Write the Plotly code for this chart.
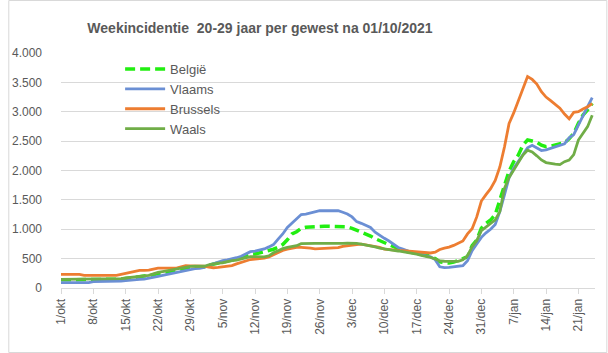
import plotly.graph_objects as go
import pandas as pd

start_date = "2020-10-01"

belgie = [140]*13 + [150, 160, 170, 180, 190, 195, 205, 225, 245, 258, 275, 290, 305, 320, 340, 345, 352, 355, 360,
          390, 410, 425, 440, 455, 475, 490, 515, 550, 578, 580, 600, 607, 625, 660, 692, 740, 820, 919, 958,
          1016, 1033, 1040, 1050, 1050, 1050, 1050, 1050, 1050, 1045, 1040, 1016, 985, 958, 920, 885, 840, 805,
          777, 735, 700, 663, 635, 620, 605, 595, 575, 555, 539, 500, 445, 430, 425, 440, 465, 500, 533, 720,
          817, 1016, 1100, 1157, 1250, 1500, 1753, 1990, 2150, 2263, 2434, 2519, 2502, 2479, 2430, 2405, 2415,
          2430, 2445, 2475, 2540, 2632, 2802, 2944, 3030, 3143]

vlaams = [90]*7 + [107]*6 + [119, 125, 136, 142, 148, 153, 165, 182, 199, 215, 233, 250, 267, 285, 306, 318, 330,
          335, 350, 385, 414, 440, 465, 480, 495, 515, 540, 580, 618, 629, 650, 665, 700, 740, 833, 920, 1030,
          1100, 1173, 1250, 1258, 1280, 1305, 1315, 1315, 1315, 1315, 1315, 1290, 1260, 1210, 1130, 1101, 1070,
          1030, 950, 890, 846, 800, 740, 690, 663, 630, 605, 585, 560, 545, 530, 482, 360, 346, 350, 363, 366,
          380, 465, 635, 748, 862, 940, 1000, 1080, 1300, 1583, 1880, 2037, 2150, 2263, 2385, 2430, 2380, 2340,
          2350, 2375, 2400, 2425, 2455, 2555, 2610, 2774, 2944, 3086, 3240]

brussels = [233]*5 + [216]*8 + [233, 250, 272, 285, 300, 300, 305, 323, 340, 340, 340, 340, 340, 360, 380, 378,
            376, 375, 374, 355, 345, 350, 360, 365, 380, 410, 437, 470, 485, 493, 500, 510, 530, 570, 607, 640,
            660, 680, 692, 692, 690, 680, 665, 670, 675, 680, 683, 686, 709, 722, 733, 740, 748, 735, 722, 710,
            690, 663, 652, 648, 640, 635, 628, 620, 616, 607, 602, 596, 610, 655, 680, 695, 725, 760, 800, 920,
            1010, 1210, 1480, 1590, 1690, 1830, 2060, 2400, 2800, 2980, 3190, 3398, 3600, 3550, 3470, 3340, 3250,
            3190, 3130, 3060, 2960, 2880, 2990, 3001, 3047, 3086, 3140]

waals = [148]*13 + [160, 170, 182, 192, 200, 205, 215, 243, 267, 280, 295, 310, 323, 340, 363, 368, 372, 374, 370,
         395, 414, 425, 430, 450, 465, 475, 490, 510, 533, 533, 528, 530, 548, 600, 635, 670, 690, 705, 720, 755,
         760, 760, 760, 760, 760, 755, 750, 748, 760, 765, 765, 760, 748, 735, 720, 700, 680, 663, 650, 640, 630,
         618, 605, 590, 575, 555, 540, 522, 493, 460, 455, 454, 454, 454, 480, 550, 703, 805, 975, 1040, 1095,
         1160, 1300, 1697, 1880, 2008, 2122, 2263, 2345, 2315, 2250, 2180, 2135, 2118, 2110, 2100, 2150, 2178,
         2270, 2519, 2632, 2746, 2940]

month_names = {10: "okt", 11: "nov", 12: "dec", 1: "jan"}
dates = pd.date_range(start_date, periods=len(belgie), freq="D")
days = list(range(len(dates)))
tick_days = days[::7]
tick_text = [f"{dates[d].day}/{month_names[dates[d].month]}" for d in tick_days]

gray = "#595959"
grid = "#d9d9d9"

fig = go.Figure()
fig.add_trace(go.Scatter(x=days, y=belgie, name="België", mode="lines",
                         line=dict(color="#22ee11", width=3.5, dash="10px,5px")))
fig.add_trace(go.Scatter(x=days, y=vlaams, name="Vlaams", mode="lines",
                         line=dict(color="#6b8fd4", width=2.8)))
fig.add_trace(go.Scatter(x=days, y=brussels, name="Brussels", mode="lines",
                         line=dict(color="#ed7d31", width=2.8)))
fig.add_trace(go.Scatter(x=days, y=waals, name="Waals", mode="lines",
                         line=dict(color="#70ad47", width=2.8)))

fig.update_layout(
    width=608, height=353,
    margin=dict(l=53, r=13, t=53, b=65),
    paper_bgcolor="white", plot_bgcolor="white",
    separators=",.",
    font=dict(family="Liberation Sans, Arial, sans-serif", color=gray, size=12),
    title=dict(text="<b>Weekincidentie  20-29 jaar per gewest na 01/10/2021</b>",
               x=260/608, xanchor="center", y=1-28/353, yanchor="middle",
               font=dict(size=14, color=gray)),
    showlegend=True,
    legend=dict(x=(113-53)/542, y=(288-54)/235, xanchor="left", yanchor="top",
                bgcolor="rgba(0,0,0,0)", font=dict(size=13, color=gray),
                tracegroupgap=0, itemwidth=40),
    xaxis=dict(range=[0, 115.6], tickmode="array", tickvals=tick_days, ticktext=tick_text,
               tickangle=-90, showgrid=False, showline=True, linecolor=grid, linewidth=1,
               ticks="outside", ticklen=5, tickcolor=grid, zeroline=False,
               tickfont=dict(size=12, color=gray)),
    yaxis=dict(range=[0, 4000], dtick=500, tickformat=",d", showgrid=True, gridcolor=grid,
               gridwidth=1, zeroline=False, showline=False, ticks="", ticklabelstandoff=18,
               tickfont=dict(size=12, color=gray)),
)

fig.add_shape(type="rect", xref="paper", yref="paper",
              x0=-53/542, x1=(607-53)/542, y0=(288-352.5)/235, y1=(288-0.5)/235,
              line=dict(color=grid, width=1), fillcolor="rgba(0,0,0,0)", layer="below")

fig.write_html("out.html")
